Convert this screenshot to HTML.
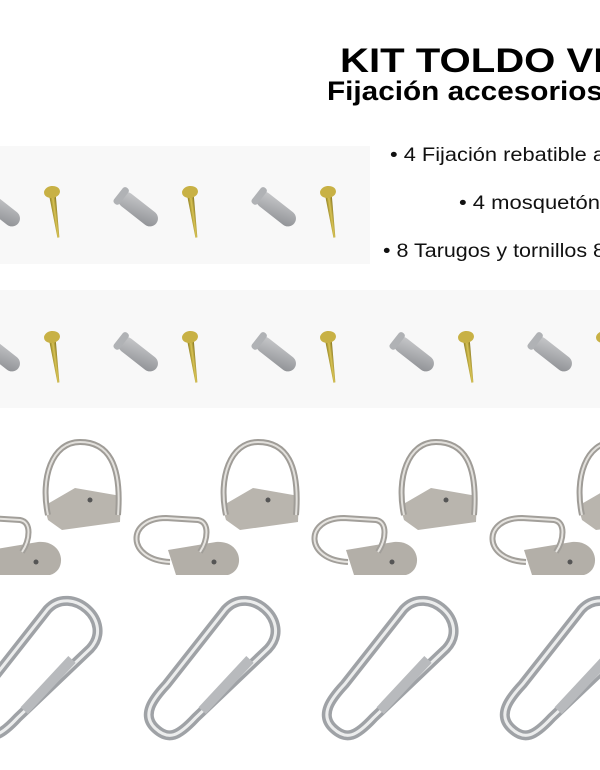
<!DOCTYPE html>
<html><head><meta charset="utf-8"><style>
html,body{margin:0;padding:0;background:#fff;}
svg{display:block}
text{font-family:"Liberation Sans",Arial,sans-serif;}
</style></head><body>
<svg width="600" height="770" viewBox="0 0 600 770" xmlns="http://www.w3.org/2000/svg">
<defs>
<linearGradient id="gd" x1="0" y1="0" x2="1" y2="1"><stop offset="0" stop-color="#c9cacc"/><stop offset="1" stop-color="#8e9094"/></linearGradient>
<linearGradient id="gs" x1="0" y1="0" x2="1" y2="0"><stop offset="0" stop-color="#8a7a1c"/><stop offset="0.5" stop-color="#d8c355"/><stop offset="1" stop-color="#7d6c18"/></linearGradient>
<g id="dw">
  <rect x="0" y="-8" width="46" height="16" rx="8" fill="url(#gd)" transform="rotate(38)"/>
  <rect x="-2" y="-10" width="7" height="20" rx="3" fill="#b0b2b5" transform="rotate(38)"/>
</g>
<g id="sc">
  <polygon points="-3.5,0 3.5,0 1,46 -1,46" fill="url(#gs)" transform="rotate(-8)"/>
  <ellipse cx="0" cy="0" rx="8" ry="6" fill="#c8b145" transform="rotate(-8)"/>
</g>
<g id="pair">
  <use href="#dw" transform="translate(120,195)"/>
  <use href="#sc" transform="translate(190,192)"/>
</g>
<g id="dr">
  <path d="M48,520 L62,530 L120,522 L121,496 L75,488 L44,506 Z" fill="#b9b5ae"/>
  <path d="M48,515 C40,478 52,442 80,442 C108,442 122,464 118,515" fill="none" stroke="#9f9c97" stroke-width="6"/>
  <path d="M48,515 C40,478 52,442 80,442 C108,442 122,464 118,515" fill="none" stroke="#e2e0dc" stroke-width="2"/>
  <circle cx="90" cy="500" r="2.5" fill="#555"/>
  <path d="M-10,550 L38,542 C64,540 68,570 50,575 L-2,575 Z" fill="#b3afa8"/>
  <path d="M-8,562 C-52,560 -52,518 -12,518 L20,520 C32,522 30,540 22,552" fill="none" stroke="#a29f9a" stroke-width="6"/>
  <path d="M-8,562 C-52,560 -52,518 -12,518 L20,520 C32,522 30,540 22,552" fill="none" stroke="#e6e4e0" stroke-width="2"/>
  <circle cx="36" cy="562" r="2.5" fill="#555"/>
</g>
<g id="cb">
  <g transform="translate(32,670) rotate(-47)">
    <path d="M-80,0 C-80,-20 -60,-22 -40,-22 L55,-30 C90,-30 92,28 55,28 L-45,22 C-70,22 -80,18 -80,0 Z" fill="none" stroke="#9fa2a6" stroke-width="10"/>
    <path d="M-80,0 C-80,-20 -60,-22 -40,-22 L55,-30 C90,-30 92,28 55,28 L-45,22 C-70,22 -80,18 -80,0 Z" fill="none" stroke="#eceded" stroke-width="3"/>
    <rect x="-35" y="17" width="70" height="10" fill="#b8babd"/>
  </g>
</g>
</defs>
<rect width="600" height="770" fill="#fff"/>
<rect x="0" y="146" width="370" height="118" fill="#f8f8f8"/>
<rect x="0" y="290" width="600" height="118" fill="#f8f8f8"/>
<use href="#pair" transform="translate(-138,0)"/>
<use href="#pair"/>
<use href="#pair" transform="translate(138,0)"/>
<use href="#pair" transform="translate(-138,145)"/>
<use href="#pair" transform="translate(0,145)"/>
<use href="#pair" transform="translate(138,145)"/>
<use href="#pair" transform="translate(276,145)"/>
<use href="#pair" transform="translate(414,145)"/>
<use href="#dr"/>
<use href="#dr" transform="translate(178,0)"/>
<use href="#dr" transform="translate(356,0)"/>
<use href="#dr" transform="translate(534,0)"/>
<use href="#cb"/>
<use href="#cb" transform="translate(178,0)"/>
<use href="#cb" transform="translate(356,0)"/>
<use href="#cb" transform="translate(534,0)"/>
<text x="340" y="72" font-size="34" font-weight="bold" fill="#000" textLength="280" lengthAdjust="spacingAndGlyphs">KIT TOLDO VE</text>
<text x="327" y="100" font-size="27" font-weight="bold" fill="#000" textLength="276" lengthAdjust="spacingAndGlyphs">Fijación accesorios</text>
<text x="390" y="161" font-size="19" fill="#111" textLength="215" lengthAdjust="spacingAndGlyphs">• 4 Fijación rebatible a</text>
<text x="459" y="209" font-size="19" fill="#111" textLength="141" lengthAdjust="spacingAndGlyphs">• 4 mosquetón</text>
<text x="383" y="257" font-size="19" fill="#111" textLength="222" lengthAdjust="spacingAndGlyphs">• 8 Tarugos y tornillos 8</text>
</svg>
</body></html>
